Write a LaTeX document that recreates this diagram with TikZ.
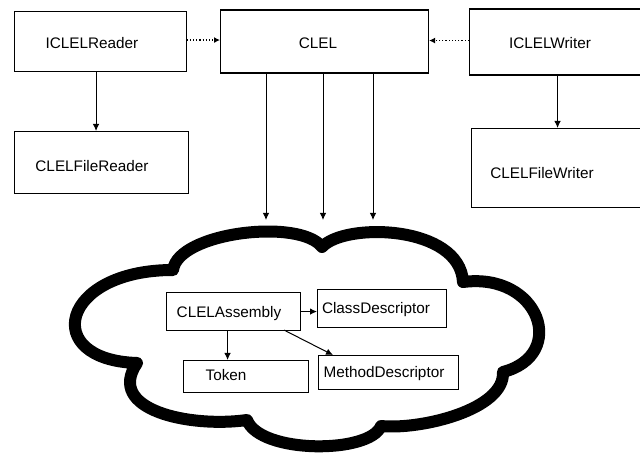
\documentclass[tikz,border=0pt]{standalone}
\usepackage{fontspec}
\setmainfont{Liberation Sans}
\usetikzlibrary{arrows.meta}
\tikzset{
  box/.style={draw, line width=1.1pt, inner sep=0pt, anchor=north west},
  lbl/.style={inner sep=0pt, text height=11pt, text depth=0pt,
    font=\fontsize{15.3}{18}\selectfont},
  arr/.style={line width=1pt, -{Latex[length=7pt,width=6.5pt]}},
  dotarr/.style={line width=1.2pt, dotted, -{Latex[length=6pt,width=6pt]}},
  cloudline/.style={line width=12pt, line join=round, fill=white}
}
\begin{document}
\begin{tikzpicture}[x=1pt, y=-1pt]
\clip (0,0) rectangle (640,454);
\fill[white] (0,0) rectangle (640,454);

% top row
\node[box, minimum width=172pt, minimum height=60pt] (rdr) at (13.5,11) {};
\node[lbl] (rdrT) at (92,43) {ICLELReader};
\node[box, minimum width=208pt, minimum height=63pt] (clel) at (220,9.5) {};
\node[lbl] (clelT) at (318,43) {CLEL};
\node[box, minimum width=176pt, minimum height=66pt] (wrt) at (469,8.5) {};
\node[lbl] (wrtT) at (550,43) {ICLELWriter};

% file reader / writer
\node[box, minimum width=174pt, minimum height=62pt] (frdr) at (14,131) {};
\node[lbl] (frdrT) at (92,166) {CLELFileReader};
\node[box, minimum width=175pt, minimum height=79pt] (fwrt) at (470.5,128) {};
\node[lbl] (fwrtT) at (542,173) {CLELFileWriter};

\draw[arr] ([xshift=-4pt]rdr.south) -- ([xshift=-4pt]rdr.south |- frdr.north);
\draw[arr] (wrt.south) -- (wrt.south |- fwrt.north);
\draw[dotarr] ([yshift=1.5pt]rdr.east) -- ([yshift=1.5pt]rdr.east -| clel.west);
\draw[dotarr] ([yshift=1.5pt]wrt.west) -- ([yshift=1.5pt]wrt.west -| clel.east);

% arrows from CLEL into the cloud
\coordinate (t1) at (266,220);
\coordinate (t2) at (323,220);
\coordinate (t3) at (373,220);
\draw[arr] (clel.south -| t1) -- (t1);
\draw[arr] (clel.south -| t2) -- (t2);
\draw[arr] (clel.south -| t3) -- (t3);

% cloud
\coordinate (cA) at (173,270);
\coordinate (cB) at (322,247);
\coordinate (cC) at (463,282);
\coordinate (cD) at (503,372);
\coordinate (cE) at (381,426);
\coordinate (cF) at (247,420);
\coordinate (cG) at (137,363);
\draw[cloudline] (cA) .. controls (178,232) and (300,218) .. (cB)
  .. controls (345,222) and (460,225) .. (cC)
  .. controls (540,272) and (568,355) .. (cD)
  .. controls (505,410) and (420,430) .. (cE)
  .. controls (370,454) and (260,454) .. (cF)
  .. controls (190,428) and (105,410) .. (cG)
  .. controls (40,360) and (60,270) .. cycle;

% boxes inside the cloud
\node[box, minimum width=134pt, minimum height=38pt] (asm) at (166,292) {};
\node[lbl] (asmT) at (229,312) {CLELAssembly};
\node[box, minimum width=129pt, minimum height=38pt] (cls) at (317,289) {};
\node[lbl] (clsT) at (376,308) {ClassDescriptor};
\node[box, minimum width=125pt, minimum height=32pt] (tok) at (183,360) {};
\node[lbl] (tokT) at (226,375) {Token};
\node[box, minimum width=140pt, minimum height=34pt] (mth) at (318,355) {};
\node[lbl] (mthT) at (384,372) {MethodDescriptor};

\draw[arr] (asm.east) -- (asm.east -| cls.west);
\draw[arr] ([xshift=-6pt]asm.south) -- ([xshift=-6pt]asm.south |- tok.north);
\draw[arr] ([xshift=-17pt,yshift=1pt]asm.south east) -- ([xshift=15pt]mth.north west);
\end{tikzpicture}
\end{document}
